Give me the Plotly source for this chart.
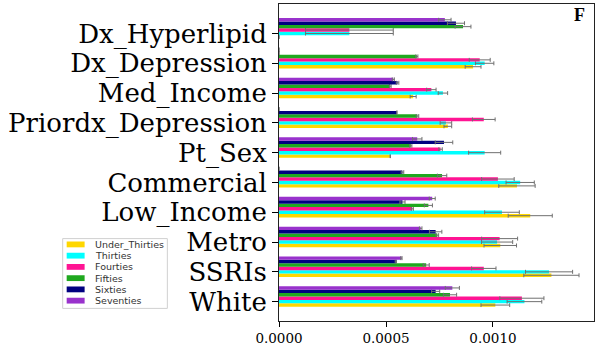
import plotly.graph_objects as go

# categories, top to bottom as drawn
features = ["Dx_Hyperlipid", "Dx_Depression", "Med_Income", "Priordx_Depression", "Pt_Sex",
            "Commercial", "Low_Income", "Metro", "SSRIs", "White"]

groups = ["Under_Thirties", "Thirties", "Fourties", "Fifties", "Sixties", "Seventies"]
colors = ["#FFD700", "#00FFFF", "#FF1493", "#1FA81F", "#000080", "#9932CC"]

under_thirties = [0.0, 0.000907, 0.000627, 0.000789, 0.000520, 0.001112, 0.001174, 0.001034, 0.001273, 0.001011]
under_thirties_err = [0.0, 3.7e-5, 1.4e-5, 1.8e-5, 0.0, 8.5e-5, 1.03e-4, 7.6e-5, 1.29e-4, 6.7e-5]
thirties = [0.000329, 0.000961, 0.000766, 0.000780, 0.000961, 0.001127, 0.001042, 0.001019, 0.001262, 0.001147]
thirties_err = [2.05e-4, 4.3e-5, 2.2e-5, 2.7e-5, 7.5e-5, 6.6e-5, 8.1e-5, 7.3e-5, 1.1e-4, 8.1e-5]
fourties = [0.000329, 0.000938, 0.000712, 0.000957, 0.000755, 0.001023, 0.000623, 0.001031, 0.000957, 0.001135]
fourties_err = [2.05e-4, 4.9e-5, 2.2e-5, 5.3e-5, 8e-6, 7.6e-5, 5e-6, 8.4e-5, 5.7e-5, 1.03e-4]
fifties = [0.000860, 0.000644, 0.000520, 0.000647, 0.000616, 0.000762, 0.000698, 0.000740, 0.000688, 0.000799]
fifties_err = [3.7e-5, 5e-6, 4e-6, 6e-6, 5e-6, 2.2e-5, 1.9e-5, 6e-6, 1.4e-5, 3.1e-5]
sixties = [0.000827, 0.0, 0.000554, 0.000551, 0.000771, 0.000577, 0.000577, 0.000732, 0.000546, 0.000732]
sixties_err = [4e-5, 0.0, 6e-6, 0.0, 4.1e-5, 6e-6, 1.2e-5, 2.9e-5, 3e-6, 1.9e-5]
seventies = [0.000775, 0.0, 0.000534, 0.0, 0.000646, 0.0, 0.000716, 0.000662, 0.000572, 0.000810]
seventies_err = [2.9e-5, 0.0, 5e-6, 0.0, 2.2e-5, 0.0, 1.4e-5, 6e-6, 3e-6, 3.3e-5]

values = [under_thirties, thirties, fourties, fifties, sixties, seventies]
errors = [under_thirties_err, thirties_err, fourties_err, fifties_err, sixties_err, seventies_err]

x_ticks = [0.0, 0.0005, 0.0010]

W, H = 598, 349
L, R, T, B = 279, 3, 3, 19
bar_h = 0.115
n = len(features)
pos = [n - 1 - i for i in range(n)]

fig = go.Figure()
for k, (name, col) in enumerate(zip(groups, colors)):
    fig.add_trace(go.Bar(
        y=[p + (k - 1) * bar_h for p in pos],
        x=values[k],
        orientation="h",
        width=bar_h,
        name=name,
        marker=dict(color=col, line=dict(width=0)),
        error_x=dict(type="data", array=errors[k], color="#707070", thickness=1, width=2),
        showlegend=False,
    ))

# pixel -> paper helpers for the hand-placed legend
def px(x):
    return (x - L) / (W - L - R)

def py(y):
    return (H - B - y) / (H - T - B)

shapes = [dict(type="rect", xref="paper", yref="paper",
               x0=px(62), x1=px(167), y0=py(245), y1=py(317),
               line=dict(color="#d0d0d0", width=1), fillcolor="rgba(255,255,255,0.8)")]
annotations = []
for k, (name, col) in enumerate(zip(groups, colors)):
    yc = 251 + k * 11.6
    shapes.append(dict(type="rect", xref="paper", yref="paper",
                       x0=px(66), x1=px(84), y0=py(yc + 3), y1=py(yc - 3),
                       line=dict(width=0), fillcolor=col))
    annotations.append(dict(text=name, xref="paper", yref="paper", x=px(92), y=py(yc),
                            xanchor="left", yanchor="middle", showarrow=False,
                            font=dict(family="DejaVu Sans", size=9.5, color="#333")))

annotations.append(dict(text="<b>F</b>", xref="paper", yref="paper", x=px(580), y=py(14),
                        xanchor="center", yanchor="middle", showarrow=False,
                        font=dict(family="Liberation Serif", size=18, color="black")))

fig.update_layout(
    width=W, height=H,
    margin=dict(l=L, r=R, t=T, b=B, pad=0),
    barmode="overlay",
    plot_bgcolor="white", paper_bgcolor="white",
    shapes=shapes, annotations=annotations,
    showlegend=False,
)
fig.update_xaxes(range=[0, 0.001472], tickvals=x_ticks, tickformat=".4f",
                 ticks="outside", ticklen=5, tickcolor="black",
                 showgrid=False, zeroline=False,
                 showline=True, linecolor="#222", linewidth=1, mirror=True,
                 tickfont=dict(family="DejaVu Serif", size=13.5, color="black"))
fig.update_yaxes(range=[-0.65, 9.99], tickvals=pos, ticktext=features,
                 ticks="outside", ticklen=6, tickcolor="black",
                 showgrid=False, zeroline=False,
                 showline=True, linecolor="#222", linewidth=1, mirror=True,
                 tickfont=dict(family="DejaVu Serif", size=26, color="black"))

fig.write_html("out.html", config={"displayModeBar": False},
               post_script="document.body.style.margin='0';")
